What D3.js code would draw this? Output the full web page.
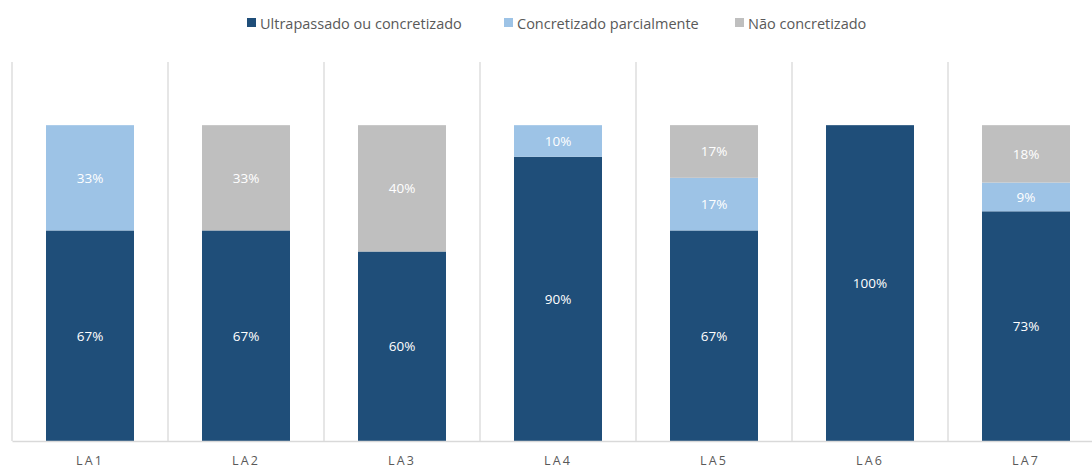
<!DOCTYPE html>
<html><head><meta charset="utf-8">
<script src="https://cdn.jsdelivr.net/npm/d3@7"></script>
<style>body{margin:0;background:#fff}svg{display:block}</style>
</head><body>
<script>
const categories = ["LA1","LA2","LA3","LA4","LA5","LA6","LA7"];
const seriesNames = ["Ultrapassado ou concretizado","Concretizado parcialmente","Não concretizado"];
const ultrapassado = [0.6667,0.6667,0.60,0.90,0.6667,1.00,0.7273];
const parcial =      [0.3333,0,0,0.10,0.1667,0,0.0909];
const naoConcret =   [0,0.3333,0.40,0,0.1667,0,0.1818];
const labelsUltra = ["67%","67%","60%","90%","67%","100%","73%"];
const labelsParcial = ["33%","","","10%","17%","","9%"];
const labelsNao = ["","33%","40%","","17%","","18%"];
const colors = ["#1F4E79","#9DC3E6","#BFBFBF"];

const W=1092,H=468;
const svg=d3.select("body").append("svg").attr("width",W).attr("height",H);
const x=d3.scaleBand().domain(categories).range([12,1104]).paddingInner(0.436).paddingOuter(0.218);
const y=d3.scaleLinear().domain([0,1.2]).range([441,62]);

// vertical separators
const step=x.step();
const seps=d3.range(categories.length+1).map(i=>12+i*step);
svg.selectAll("line.sep").data(seps).enter().append("line")
 .attr("x1",d=>d).attr("x2",d=>d).attr("y1",y(1.2)).attr("y2",y(0))
 .attr("stroke","#D9D9D9").attr("stroke-width",1.3);

const data=categories.map((c,i)=>({cat:c,vals:[ultrapassado[i],parcial[i],naoConcret[i]],labels:[labelsUltra[i],labelsParcial[i],labelsNao[i]]}));
data.forEach(d=>{
  let acc=0;
  d.vals.forEach((v,k)=>{
    if(v>0){
      svg.append("rect").attr("x",x(d.cat)).attr("width",x.bandwidth())
        .attr("y",y(acc+v)).attr("height",y(acc)-y(acc+v)).attr("fill",colors[k]);
      if(d.labels[k]) svg.append("text").attr("x",x(d.cat)+x.bandwidth()/2).attr("y",(y(acc)+y(acc+v))/2)
        .attr("text-anchor","middle").attr("dominant-baseline","central")
        .attr("fill","#fff").attr("font-family","Open Sans, sans-serif").attr("font-size",13.5).text(d.labels[k]);
    }
    acc+=v;
  });
});

// axis
const ax=svg.append("g").attr("transform",`translate(0,${y(0)})`).call(d3.axisBottom(x).tickSize(0).tickPadding(15));
ax.select(".domain").attr("stroke","#D9D9D9").attr("stroke-width",1.3);
ax.selectAll("text").attr("font-family","Open Sans, sans-serif").attr("font-size",12.5).attr("fill","#595959").attr("letter-spacing","2.2px");

// legend
const legX=[247,504,735];
seriesNames.forEach((n,i)=>{
  svg.append("rect").attr("x",legX[i]).attr("y",18).attr("width",9).attr("height",9).attr("fill",colors[i]);
  svg.append("text").attr("x",legX[i]+13).attr("y",23).attr("dominant-baseline","central")
   .attr("font-family","Open Sans, sans-serif").attr("font-size",14.5).attr("fill","#595959").text(n);
});
</script>
</body></html>
